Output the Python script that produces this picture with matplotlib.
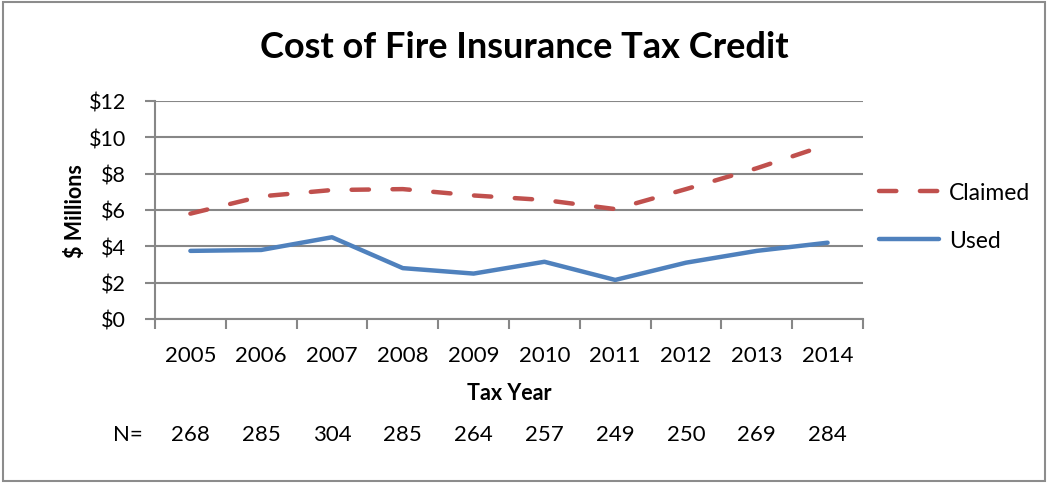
import matplotlib.pyplot as plt
from matplotlib.patches import Rectangle

# Daten
years = ["2005", "2006", "2007", "2008", "2009", "2010", "2011", "2012", "2013", "2014"]
claimed = [5.8, 6.75, 7.1, 7.15, 6.8, 6.55, 6.05, 7.15, 8.3, 9.6]
used = [3.75, 3.8, 4.5, 2.8, 2.5, 3.15, 2.15, 3.1, 3.75, 4.2]
n_counts = [268, 285, 304, 285, 264, 257, 249, 250, 269, 284]
y_ticks = [0, 2, 4, 6, 8, 10, 12]

plt.rcParams["font.family"] = ["Lato", "DejaVu Sans"]
GRID = "#878787"

fig = plt.figure(figsize=(10.48, 4.85), dpi=100)
fig.patches.append(Rectangle((0.003, 0.006), 0.994, 0.988, transform=fig.transFigure,
                             fill=False, edgecolor="#8c8c8c", linewidth=1.5))

ax = fig.add_axes([155 / 1048, 1 - 320 / 485, (863 - 155) / 1048, (320 - 102) / 485])
x = list(range(len(years)))

ax.plot(x, claimed, color="#C0504D", lw=3.2, linestyle=(0, (3.9, 5.3)),
        dash_capstyle="round", solid_capstyle="round", label="Claimed", zorder=3)
ax.plot(x, used, color="#4F81BD", lw=3.2, solid_capstyle="round", label="Used", zorder=3)

ax.set_xlim(-0.5, len(years) - 0.5)
ax.set_ylim(0, 12)
ax.set_yticks(y_ticks)
ax.set_yticklabels([f"${v}" for v in y_ticks], fontsize=15.5)
ax.set_xticks(x)
ax.set_xticklabels(years, fontsize=16)
ax.set_xticks([i - 0.5 for i in range(len(years) + 1)], minor=True)
ax.tick_params(axis="x", which="major", length=0, pad=19)
ax.tick_params(axis="x", which="minor", length=7, width=1.5, color=GRID, direction="out")
ax.tick_params(axis="y", length=7, width=1.5, color=GRID, pad=14)
ax.grid(axis="y", color=GRID, lw=1.5)
ax.set_axisbelow(True)
for s in ["top", "right"]:
    ax.spines[s].set_visible(False)
for s in ["left", "bottom"]:
    ax.spines[s].set_color(GRID)
    ax.spines[s].set_linewidth(1.5)

ax.set_ylabel("$ Millions", fontsize=15.5, fontweight="bold", labelpad=2)
ax.set_xlabel("Tax Year", fontsize=15.5, fontweight="bold", labelpad=12)

fig.text(0.5, 1 - 48 / 485, "Cost of Fire Insurance Tax Credit", ha="center", va="center",
         fontsize=26, fontweight="bold")

# N= Zeile
n_y = 1 - 435 / 485
fig.text(128 / 1048, n_y, "N=", ha="center", va="center", fontsize=16)
for i, n in enumerate(n_counts):
    xf = (155 + (i + 0.5) * (863 - 155) / len(years)) / 1048
    fig.text(xf, n_y, str(n), ha="center", va="center", fontsize=16)

ax.legend(loc="center left", bbox_to_anchor=(1.0, 0.47), frameon=False, fontsize=16.5,
          handlelength=2.6, labelspacing=1.15, handletextpad=0.45, borderaxespad=0.3)

fig.savefig("out.png", dpi=100)
